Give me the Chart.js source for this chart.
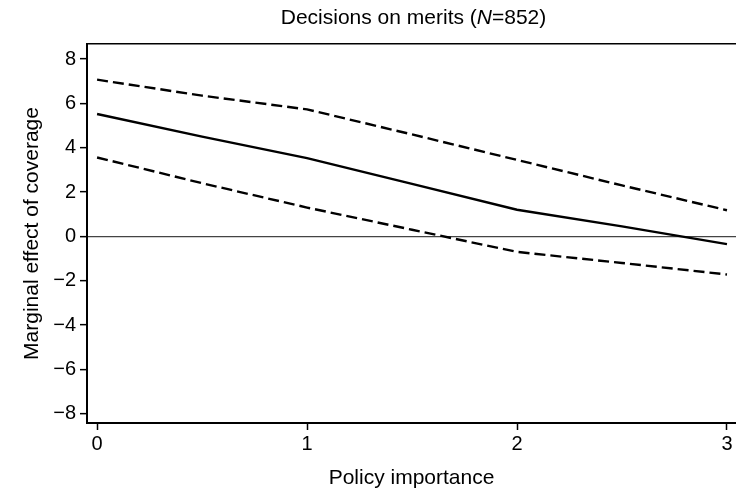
<!DOCTYPE html>
<html>
<head>
<meta charset="utf-8">
<script src="https://cdn.jsdelivr.net/npm/chart.js@4/dist/chart.umd.min.js"></script>
<style>
  html, body { margin: 0; padding: 0; background: #fff; }
  #wrap { width: 736px; height: 491px; position: relative; }
</style>
</head>
<body>
<div id="wrap"><canvas id="c"></canvas></div>
<script>
// ---- data ----
const xValues = [0, 0.5, 1, 1.5, 2, 2.5, 3];
const marginalEffect = [5.52, 4.5, 3.53, 2.37, 1.2, 0.45, -0.35];
const upperBound = [7.07, 6.35, 5.73, 4.6, 3.45, 2.3, 1.18];
const lowerBound = [3.56, 2.4, 1.3, 0.3, -0.7, -1.2, -1.72];
const xTicks = [0, 1, 2, 3];
const yTicks = [-8, -6, -4, -2, 0, 2, 4, 6, 8];
const titleParts = ['Decisions on merits (', 'N', '=852)'];
const xTitle = 'Policy importance';
const yTitle = 'Marginal effect of coverage';

const FONT = '"Liberation Sans", Arial, Helvetica, sans-serif';

function pts(ys) { return xValues.map((x, i) => ({ x: x, y: ys[i] })); }
function fmt(v) { return v < 0 ? '\u2212' + Math.abs(v) : String(v); }

const titlePlugin = {
  id: 'mixedTitle',
  afterDraw(chart) {
    const ctx = chart.ctx;
    const ca = chart.chartArea;
    ctx.save();
    ctx.fillStyle = '#000';
    ctx.textBaseline = 'alphabetic';
    const fonts = ['21px ' + FONT, 'italic 21px ' + FONT, '21px ' + FONT];
    let total = 0;
    const widths = titleParts.map((t, i) => { ctx.font = fonts[i]; const w = ctx.measureText(t).width; total += w; return w; });
    let x = (ca.left + ca.right) / 2 + 2 - total / 2;
    titleParts.forEach((t, i) => { ctx.font = fonts[i]; ctx.fillText(t, x, 24); x += widths[i]; });
    ctx.restore();
  }
};

new Chart(document.getElementById('c'), {
  type: 'line',
  data: {
    datasets: [
      { data: pts(upperBound), borderColor: '#000', borderWidth: 2.4, borderDash: [11, 5], pointRadius: 0, tension: 0, fill: false },
      { data: pts(marginalEffect), borderColor: '#000', borderWidth: 2.4, pointRadius: 0, tension: 0, fill: false },
      { data: pts(lowerBound), borderColor: '#000', borderWidth: 2.4, borderDash: [11, 5], pointRadius: 0, tension: 0, fill: false }
    ]
  },
  options: {
    responsive: true,
    maintainAspectRatio: false,
    animation: false,
    layout: { padding: { top: 44, left: 0, right: 0, bottom: 0 } },
    plugins: { legend: { display: false }, tooltip: { enabled: false }, title: { display: false } },
    scales: {
      x: {
        type: 'linear',
        position: 'bottom',
        min: -0.048,
        max: 3.043,
        afterBuildTicks(scale) { scale.ticks = xTicks.map(v => ({ value: v })); },
        afterFit(scale) { scale.height = 68; },
        ticks: { color: '#000', font: { family: FONT, size: 20 }, padding: 2, maxRotation: 0, autoSkip: false, callback: (v) => fmt(v) },
        grid: { drawOnChartArea: false, drawTicks: true, tickLength: 7, tickColor: '#000', tickWidth: 1.5 },
        border: { display: true, color: '#000', width: 2 },
        title: { display: true, text: xTitle, color: '#000', font: { family: FONT, size: 21 }, padding: { top: 0, bottom: 0 } }
      },
      x2: {
        type: 'linear',
        position: 'top',
        min: -0.048,
        max: 3.043,
        afterFit(scale) { scale.height = 0; },
        ticks: { display: false },
        grid: { display: false, drawTicks: false },
        border: { display: true, color: '#000', width: 1.5 }
      },
      y: {
        type: 'linear',
        min: -8.42,
        max: 8.68,
        afterBuildTicks(scale) { scale.ticks = yTicks.map(v => ({ value: v })); },
        afterFit(scale) { scale.width = 87; },
        ticks: { color: '#000', font: { family: FONT, size: 20 }, padding: 4, callback: (v) => fmt(v) },
        grid: {
          drawOnChartArea: true,
          drawTicks: true,
          tickLength: 7,
          tickColor: '#000',
          tickWidth: 1.5,
          color: (c) => (c.tick && c.tick.value === 0) ? '#444' : 'rgba(0,0,0,0)',
          lineWidth: 1.3
        },
        border: { display: true, color: '#000', width: 2 },
        title: { display: true, text: yTitle, color: '#000', font: { family: FONT, size: 21 }, padding: { top: 20, bottom: 0 } }
      }
    }
  },
  plugins: [titlePlugin]
});
</script>
</body>
</html>
